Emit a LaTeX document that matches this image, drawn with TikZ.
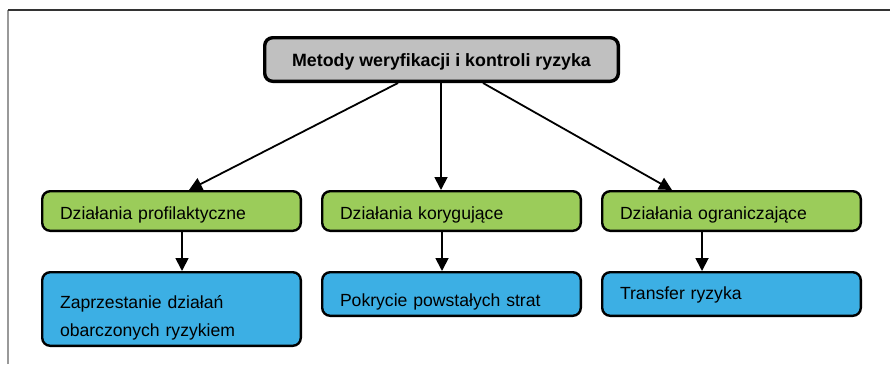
\documentclass[tikz,border=0pt]{standalone}
\usepackage{fontspec}
\setmainfont{Liberation Sans}
\usetikzlibrary{arrows.meta, positioning}
\tikzset{>={Triangle[width=13pt,length=13pt]}}
\definecolor{boxgray}{RGB}{192,192,192}
\definecolor{boxgreen}{RGB}{155,204,90}
\definecolor{boxblue}{RGB}{60,175,228}

\begin{document}
\begin{tikzpicture}[x=1pt, y=-1pt, font=\fontsize{17.6}{28.7}\selectfont,
	box/.style = {draw, line width=2.4pt, rounded corners=8pt, anchor=north west,
		text width=223pt, align=left, inner xsep=17.8pt, inner ysep=0pt},
	act/.style = {box, fill=boxgreen, text height=28.1pt, text depth=11.5pt},
	res/.style = {box, fill=boxblue}]
			\useasboundingbox (0,0) rectangle (890,364);
			% frame
			\draw[gray!80, line width=1.2pt] (8,364) -- (8,10);
			\draw[black!80, line width=1.4pt] (8,10) -- (890,10);
			\node (m) [draw, line width=3.4pt, rounded corners=8pt, fill=boxgray, anchor=north west,
				minimum width=353.6pt, inner xsep=0pt, inner ysep=0pt, text height=29pt, text depth=14.6pt,
				font=\fontsize{17.8}{20}\selectfont\bfseries] at (263,36) {Metody weryfikacji i kontroli ryzyka};
			\node (p) [act] at (41,190) {Działania profilaktyczne};
			\node (k) [act] at (321,190) {Działania korygujące};
			\node (o) [act] at (601,190) {Działania ograniczające};
			\node (z) [res, text height=35.8pt, text depth=37.8pt] at (41,271) {Zaprzestanie działań\\obarczonych ryzykiem};
			\node (s) [res, text height=34.5pt, text depth=9.1pt] at (321,271) {Pokrycie powstałych strat};
			\node (t) [res, text height=27.1pt, text depth=16.5pt] at (601,271) {Transfer ryzyka};
			\path[->, line width=1.8pt]
			([xshift=-43.5pt]m.south) edge ([xshift=17.5pt]p.north)
			([xshift=-0.5pt]m.south) edge ([xshift=-10.5pt]k.north)
			([xshift=41.5pt]m.south) edge ([xshift=-59.5pt]o.north)
			([xshift=10.5pt]p.south) edge ([xshift=10.5pt]z.north)
			([xshift=-9.5pt]k.south) edge ([xshift=-9.5pt]s.north)
			([xshift=-29.5pt]o.south) edge ([xshift=-29.5pt]t.north);
\end{tikzpicture}
\end{document}
